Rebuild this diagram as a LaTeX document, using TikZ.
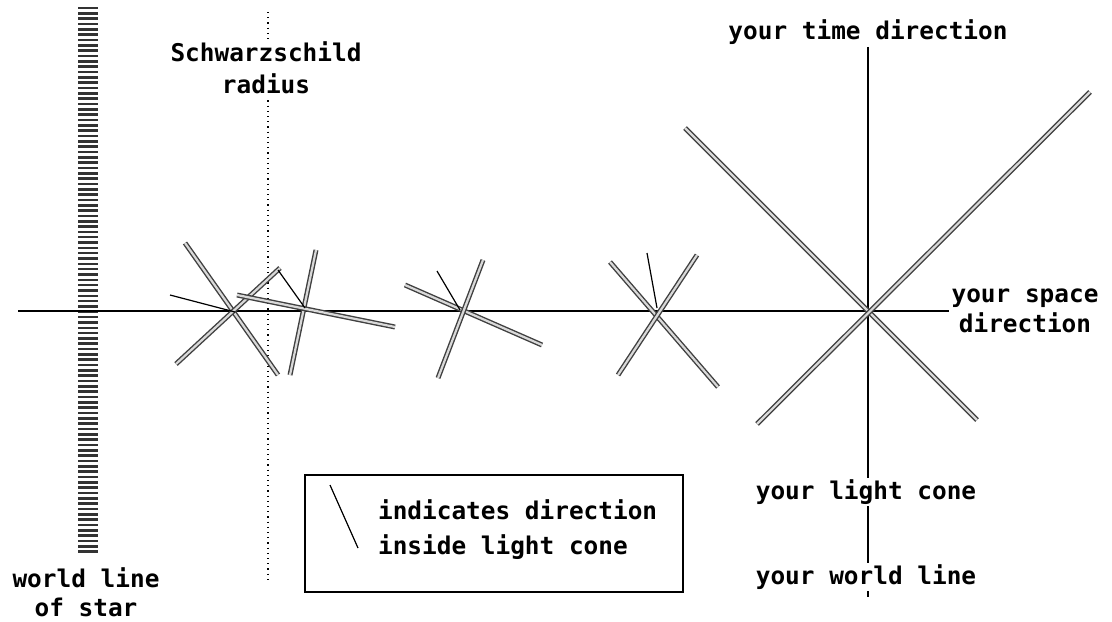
\documentclass[tikz,border=0pt]{standalone}
\usepackage{fontspec}
\setmainfont{DejaVu Sans Mono}
\begin{document}
\begin{tikzpicture}[
  x=0.5pt, y=-0.5pt,
  every node/.style={font=\bfseries\fontsize{12.2}{16}\selectfont},
  lbl/.style={align=center, fill=white, inner sep=1pt},
  axis/.style={line width=1pt},
  cone/.style={draw=black!75, double=black!15, double distance=1.1pt, line width=0.7pt},
  inside/.style={line width=0.6pt},
  horizon/.style={dotted, line width=0.6pt},
  legendbox/.style={draw, line width=1pt, minimum width=189pt, minimum height=58.5pt}
]
\useasboundingbox (0,0) rectangle (1112,621);

% world line of the star
\foreach \y in {8,13.33,...,555}
  \draw[line width=1.3pt, black!80] (78,\y) -- (98,\y);
\node[align=center] (star) at (86,592) {world line\\[-1.5pt]of star};

% Schwarzschild radius
\draw[horizon] (268,12) -- (268,582);
\node[lbl] (radius) at (266,68) {Schwarzschild\\radius};

% your axes
\node[lbl] (space) at (1025,311) {your space\\[-1pt]direction};
\draw[axis] (18,311) -- (space.west);
\node[lbl] (time) at (868,32) {your time direction};
\draw[axis] (time.south) -- (868,597);
\node[lbl] (lightcone) at (866,492) {your light cone};
\node[lbl] (worldline) at (866,577) {your world line};

% your light cone
\draw[cone] (685,128) -- (977,420);
\draw[cone] (1090,92) -- (757,424);

% cone 1
\draw[cone] (185,243) -- (278,375);
\draw[cone] (280,268) -- (176,364);
\draw[inside] (170,295) -- (235,312);
% cone 2
\draw[cone] (316,250) -- (290,375);
\draw[cone] (237,295) -- (395,327);
\draw[inside] (278,270) -- (305,308);
% cone 3
\draw[cone] (405,285) -- (542,345);
\draw[cone] (483,260) -- (438,378);
\draw[inside] (437,271) -- (460,310);
% cone 4
\draw[cone] (610,262) -- (718,387);
\draw[cone] (697,255) -- (618,375);
\draw[inside] (647,253) -- (657,308);

% legend
\node[legendbox] (legend) at (494,533.5) {};
\draw[inside] (330,485) -- (358,548);
\node[anchor=west, align=left] (legendtext) at (371,530) {indicates direction\\[1.5pt]inside light cone};
\end{tikzpicture}
\end{document}
